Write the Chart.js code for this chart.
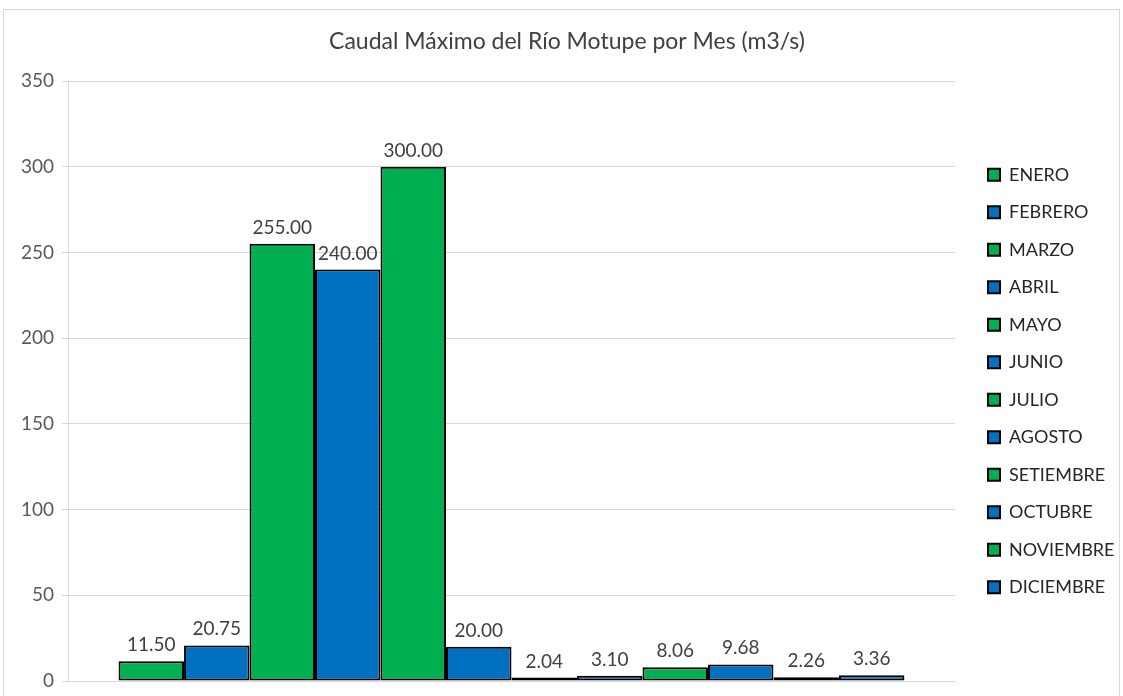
<!DOCTYPE html>
<html>
<head>
<meta charset="utf-8">
<script src="https://cdn.jsdelivr.net/npm/chart.js@4.4.1/dist/chart.umd.min.js"></script>
<style>
  html, body { margin: 0; padding: 0; background: #ffffff; }
  #wrap { position: relative; width: 1123px; height: 696px; }
</style>
</head>
<body>
<div id="wrap"><canvas id="c" width="1123" height="696"></canvas></div>
<script>
// Monthly maximum discharge of the Motupe river (m3/s)
const months = ['ENERO', 'FEBRERO', 'MARZO', 'ABRIL', 'MAYO', 'JUNIO', 'JULIO',
                'AGOSTO', 'SETIEMBRE', 'OCTUBRE', 'NOVIEMBRE', 'DICIEMBRE'];
const caudal = [11.50, 20.75, 255.00, 240.00, 300.00, 20.00, 2.04, 3.10, 8.06, 9.68, 2.26, 3.36];
const yTicks = [0, 50, 100, 150, 200, 250, 300, 350];

const GREEN = '#00B050';
const BLUE = '#0070C0';
const FONT = 'Lato, "Liberation Sans", sans-serif';

const datasets = months.map((m, i) => ({
  label: m,
  data: [caudal[i]],
  backgroundColor: i % 2 === 0 ? GREEN : BLUE,
  borderColor: '#000000',
  borderWidth: 2,
  borderSkipped: false,
  categoryPercentage: 0.886,
  barPercentage: 1.0
}));

// outer frame of the chart
const framePlugin = {
  id: 'frame',
  beforeDraw(chart) {
    const ctx = chart.ctx;
    ctx.save();
    ctx.strokeStyle = '#d9d9d9';
    ctx.lineWidth = 1;
    ctx.strokeRect(3.5, 9.5, 1116, 700);
    ctx.restore();
  }
};

// value labels above each bar
const valueLabels = {
  id: 'valueLabels',
  afterDatasetsDraw(chart) {
    const ctx = chart.ctx;
    ctx.save();
    ctx.font = '19px ' + FONT;
    ctx.fillStyle = '#404040';
    ctx.textAlign = 'center';
    ctx.textBaseline = 'alphabetic';
    chart.data.datasets.forEach((ds, i) => {
      const bar = chart.getDatasetMeta(i).data[0];
      ctx.fillText(ds.data[0].toFixed(2), bar.x, bar.y - 10);
    });
    ctx.restore();
  }
};

// fixed legend width, items moved a little away from the plot
const LEGEND_WIDTH = 158;
const LEGEND_SHIFT = 13.5;
const legendLayout = {
  id: 'legendLayout',
  afterInit(chart) {
    const lg = chart.legend;
    if (!lg) return;
    const origFit = lg.fit.bind(lg);
    lg.fit = function () { origFit(); this.width = LEGEND_WIDTH; };
  },
  afterLayout(chart) {
    if (chart.legend) { chart.legend.left += LEGEND_SHIFT; chart.legend.right += LEGEND_SHIFT; }
  }
};

new Chart(document.getElementById('c'), {
  type: 'bar',
  data: { labels: [''], datasets },
  plugins: [framePlugin, valueLabels, legendLayout],
  options: {
    responsive: false,
    animation: false,
    devicePixelRatio: 1,
    layout: { padding: { top: 28, left: 21, right: 10, bottom: 0 } },
    plugins: {
      title: {
        display: true,
        text: 'Caudal Máximo del Río Motupe por Mes (m3/s)',
        color: '#404040',
        font: { family: FONT, size: 23, weight: 'normal' },
        padding: { top: 0, bottom: 25.4 }
      },
      legend: {
        position: 'right',
        fullSize: false,
        labels: {
          color: '#262626',
          font: { family: FONT, size: 18 },
          boxWidth: 12,
          boxHeight: 12,
          padding: 19.5
        }
      },
      tooltip: { enabled: false }
    },
    scales: {
      x: {
        afterFit(scale) { scale.height = 15; },
        ticks: { display: false },
        grid: { display: false, drawTicks: false },
        border: { display: true, color: '#d9d9d9' }
      },
      y: {
        min: 0,
        max: 350,
        afterBuildTicks(scale) { scale.ticks = yTicks.map(v => ({ value: v })); },
        afterFit(scale) { scale.width = 47; },
        ticks: {
          color: '#595959',
          font: { family: FONT, size: 19, lineHeight: 0.7 },
          padding: 8
        },
        grid: { color: '#d9d9d9', lineWidth: 1, tickLength: 6 },
        border: { display: true, color: '#d9d9d9' }
      }
    }
  }
});
</script>
</body>
</html>
